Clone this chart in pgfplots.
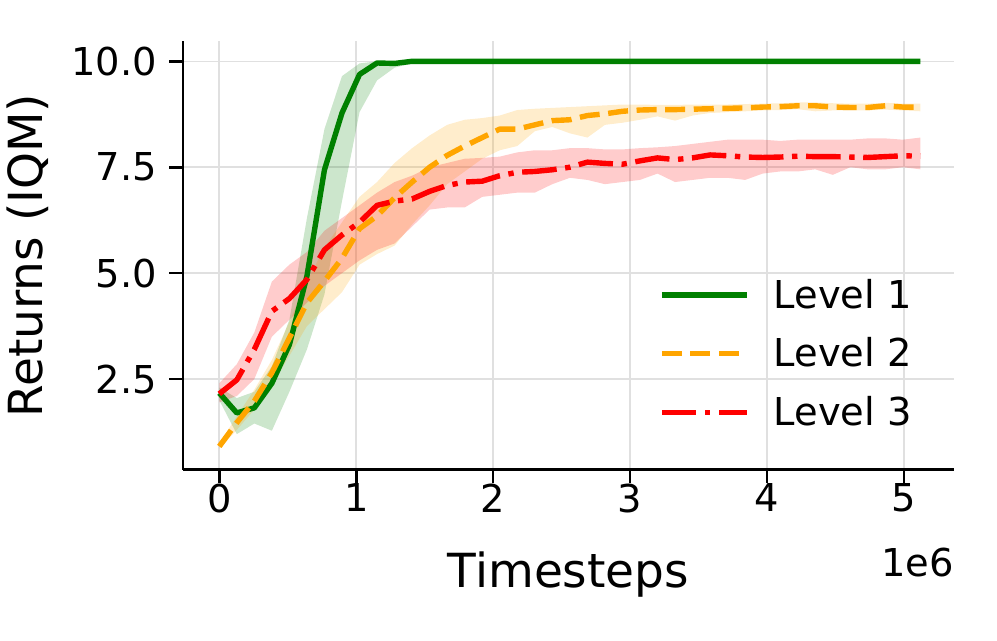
\documentclass[border=0pt]{standalone}
\usepackage{fontspec}
\setmainfont{DejaVu Sans}
\usepackage{pgfplots}
\usepackage{pgfplotstable}
\pgfplotsset{compat=1.18}
\usepgfplotslibrary{fillbetween}
\definecolor{cgreen}{RGB}{0,128,0}
\definecolor{corange}{RGB}{255,165,0}
\definecolor{cred}{RGB}{255,0,0}
\pgfplotstableread{
x m lo hi
0.000 2.17 2.00 2.30
0.128 1.70 1.20 2.05
0.256 1.82 1.45 2.20
0.384 2.40 1.28 2.80
0.512 3.31 2.20 3.90
0.640 4.93 3.20 6.30
0.768 7.44 4.50 8.40
0.896 8.78 6.70 9.65
1.024 9.69 8.80 9.95
1.152 9.96 9.55 10.00
1.280 9.95 9.85 10.00
1.408 10.00 9.95 10.02
1.536 10.00 9.98 10.02
1.664 10.00 9.98 10.02
1.792 10.00 9.98 10.02
1.920 10.00 9.98 10.02
2.048 10.00 9.98 10.02
2.176 10.00 9.98 10.02
2.304 10.00 9.98 10.02
2.432 10.00 9.98 10.02
2.560 10.00 9.98 10.02
2.688 10.00 9.98 10.02
2.816 10.00 9.98 10.02
2.944 10.00 9.98 10.02
3.072 10.00 9.98 10.02
3.200 10.00 9.98 10.02
3.328 10.00 9.98 10.02
3.456 10.00 9.98 10.02
3.584 10.00 9.98 10.02
3.712 10.00 9.98 10.02
3.840 10.00 9.98 10.02
3.968 10.00 9.98 10.02
4.096 10.00 9.98 10.02
4.224 10.00 9.98 10.02
4.352 10.00 9.98 10.02
4.480 10.00 9.98 10.02
4.608 10.00 9.98 10.02
4.736 10.00 9.98 10.02
4.864 10.00 9.98 10.02
4.992 10.00 9.98 10.02
5.120 10.00 9.98 10.02
}\greendata
\pgfplotstableread{
x m lo hi
0.000 0.91 0.85 0.98
0.128 1.47 1.30 1.62
0.256 1.98 1.78 2.25
0.384 2.65 2.35 2.95
0.512 3.47 3.05 3.85
0.640 4.30 3.75 4.80
0.768 4.81 4.15 5.60
0.896 5.35 4.55 6.20
1.024 6.05 5.20 6.80
1.152 6.35 5.45 7.15
1.280 6.78 5.65 7.60
1.408 7.15 6.15 7.95
1.536 7.50 6.60 8.25
1.664 7.78 7.10 8.50
1.792 8.00 7.40 8.62
1.920 8.20 7.70 8.66
2.048 8.40 7.90 8.72
2.176 8.40 8.00 8.85
2.304 8.50 8.35 8.88
2.432 8.60 8.45 8.90
2.560 8.62 8.30 8.92
2.688 8.72 8.20 8.94
2.816 8.76 8.50 8.96
2.944 8.82 8.55 8.98
3.072 8.85 8.62 8.98
3.200 8.86 8.70 8.97
3.328 8.86 8.60 8.97
3.456 8.87 8.72 8.98
3.584 8.88 8.78 8.98
3.712 8.89 8.80 8.98
3.840 8.90 8.82 8.99
3.968 8.92 8.84 9.00
4.096 8.93 8.85 9.01
4.224 8.95 8.87 9.03
4.352 8.95 8.82 9.03
4.480 8.92 8.84 9.01
4.608 8.91 8.84 9.00
4.736 8.91 8.84 9.00
4.864 8.95 8.86 9.02
4.992 8.92 8.84 9.00
5.120 8.92 8.82 9.00
}\orangedata
\pgfplotstableread{
x m lo hi
0.000 2.15 1.95 2.40
0.128 2.48 2.10 2.85
0.256 3.20 2.50 3.60
0.384 4.10 3.50 4.80
0.512 4.40 3.90 5.20
0.640 4.85 4.30 5.50
0.768 5.55 4.70 6.00
0.896 5.90 5.00 6.30
1.024 6.20 5.30 6.60
1.152 6.60 5.55 6.90
1.280 6.70 5.70 7.15
1.408 6.75 6.10 7.30
1.536 6.93 6.50 7.50
1.664 7.07 6.55 7.60
1.792 7.15 6.55 7.70
1.920 7.17 6.80 7.72
2.048 7.30 6.85 7.75
2.176 7.38 6.90 7.85
2.304 7.40 6.90 7.90
2.432 7.44 7.10 7.90
2.560 7.50 7.25 7.95
2.688 7.62 7.20 7.95
2.816 7.59 7.10 7.92
2.944 7.57 7.15 7.92
3.072 7.65 7.20 7.95
3.200 7.72 7.35 7.97
3.328 7.68 7.15 8.00
3.456 7.72 7.20 8.05
3.584 7.79 7.25 8.10
3.712 7.77 7.25 8.15
3.840 7.74 7.20 8.15
3.968 7.73 7.35 8.15
4.096 7.74 7.40 8.12
4.224 7.76 7.40 8.15
4.352 7.75 7.45 8.15
4.480 7.75 7.32 8.15
4.608 7.74 7.50 8.15
4.736 7.73 7.45 8.18
4.864 7.75 7.45 8.18
4.992 7.77 7.50 8.15
5.120 7.76 7.45 8.20
}\reddata
\begin{document}
\begin{tikzpicture}
\begin{axis}[
  name=ax,
  at={(0pt,0pt)}, anchor=south west,
  scale only axis, width=385.5pt, height=214.15pt,
  xmin=-0.265, xmax=5.365, ymin=0.36, ymax=10.47,
  axis x line*=bottom, axis y line*=left,
  axis line style={line width=1.3pt, black},
  xtick={0,1,2,3,4,5}, xticklabels={0,1,2,3,4,5},
  ytick={2.5,5,7.5,10}, yticklabels={2.5,5.0,7.5,10.0},
  tick align=outside, major tick length=6.8pt,
  tick style={line width=1.3pt, black},
  grid=major, major grid style={line width=0.8pt, black!12},
  ticklabel style={font=\fontsize{19.2}{23}\selectfont},
  yticklabel style={anchor=east, inner sep=0pt, xshift=-6pt},
  xticklabel style={anchor=north, inner sep=0pt},
  label style={font=\fontsize{23.5}{28}\selectfont},
  xlabel={Timesteps},
  xlabel style={at={(axis description cs:0.5,0)}, anchor=base, yshift=-59pt},
  ylabel={Returns (IQM)},
  ylabel style={at={(axis description cs:-0.201,0.5)}, anchor=center},
  legend style={draw=none, fill=none, at={(axis description cs:0.617,0.446)},
    anchor=north west, font=\fontsize{19.2}{23}\selectfont, inner sep=0pt,
    row sep=13.2pt, nodes={inner sep=0pt}},
  legend image code/.code={\draw[#1] (0pt,0pt) -- (42.5pt,0pt); \path[draw=none,fill=none] (0pt,0pt) (56pt,0pt);},
  legend cell align=left,
]
\addplot[draw=none, name path=gU, forget plot] table[x=x,y=hi]{\greendata};
\addplot[draw=none, name path=gL, forget plot] table[x=x,y=lo]{\greendata};
\addplot[cgreen, fill opacity=0.2, draw=none, forget plot] fill between[of=gU and gL];
\addplot[draw=none, name path=oU, forget plot] table[x=x,y=hi]{\orangedata};
\addplot[draw=none, name path=oL, forget plot] table[x=x,y=lo]{\orangedata};
\addplot[corange, fill opacity=0.2, draw=none, forget plot] fill between[of=oU and oL];
\addplot[draw=none, name path=rU, forget plot] table[x=x,y=hi]{\reddata};
\addplot[draw=none, name path=rL, forget plot] table[x=x,y=lo]{\reddata};
\addplot[cred, fill opacity=0.2, draw=none, forget plot] fill between[of=rU and rL];
\addplot[cgreen, line width=2.7pt, line join=round] table[x=x,y=m]{\greendata};
\addlegendentry{Level 1}
\addplot[corange, line width=2.7pt, line join=round, dash pattern=on 10pt off 4.3pt] table[x=x,y=m]{\orangedata};
\addlegendentry{Level 2}
\addplot[cred, line width=2.7pt, line join=round, dash pattern=on 17.3pt off 4.3pt on 2.7pt off 4.3pt] table[x=x,y=m]{\reddata};
\addlegendentry{Level 3}
\end{axis}
\node[anchor=base east, inner sep=0pt, font=\fontsize{19.2}{23}\selectfont] at ([yshift=-53.5pt]ax.south east) {1e6};
\path (-91.5pt,-85.5pt) rectangle (407pt,234.85pt);
\end{tikzpicture}
\end{document}
